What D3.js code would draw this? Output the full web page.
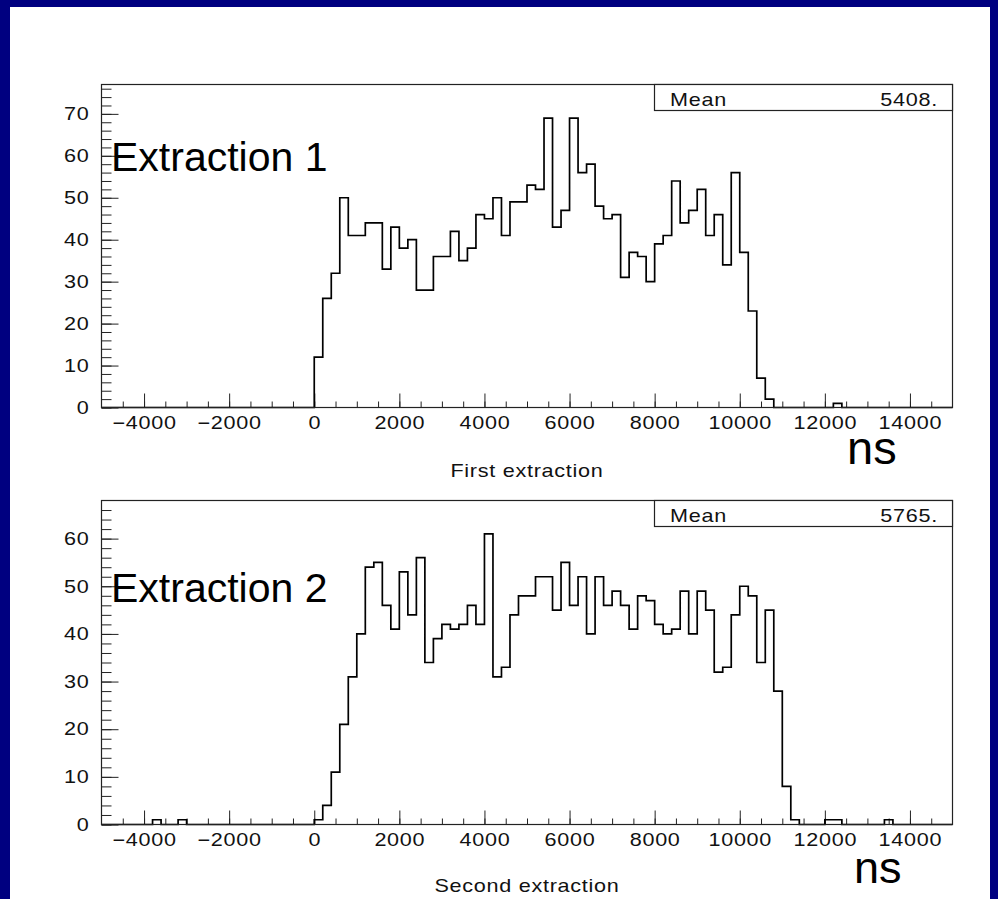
<!DOCTYPE html>
<html>
<head>
<meta charset="utf-8">
<script src="https://cdn.jsdelivr.net/npm/d3@7"></script>
<style>
  body { margin: 0; background: #ffffff; }
  svg { display: block; }
</style>
</head>
<body>
<svg id="chart" width="998" height="899"></svg>
<script>
// ---------------- DATA ----------------
const xDomain = [-5000, 15000];          // ns
const binStart = -5000;                  // ns, left edge of first bin
const binWidth = 200;                    // ns
const xTickLabels = [-4000, -2000, 0, 2000, 4000, 6000, 8000, 10000, 12000, 14000];
const xMinorTicks = d3.range(-4500, 15000, 500);

const panelTitles = ["Extraction 1", "Extraction 2"];
const axisTitles = ["First extraction", "Second extraction"];
const meanValues = ["5408.", "5765."];
const yMaxes = [77, 68];
const yTickLabels1 = [0, 10, 20, 30, 40, 50, 60, 70];
const yTickLabels2 = [0, 10, 20, 30, 40, 50, 60];

// counts per 200 ns bin, from -5000 to 15000 ns (100 bins)
const counts1 = [
  0, 0, 0, 0, 0, 0, 0, 0, 0, 0,
  0, 0, 0, 0, 0, 0, 0, 0, 0, 0,
  0, 0, 0, 0, 0,
  12, 26, 32, 50, 41, 41, 44, 44, 33, 43,
  38, 40, 28, 28, 36, 36, 42, 35, 38, 46,
  45, 50, 41, 49, 49, 53, 52, 69, 43, 47,
  69, 56, 58, 48, 45, 46, 31, 37, 36, 30,
  39, 41, 54, 44, 47, 52, 41, 46, 34, 56,
  37, 23, 7, 2, 0, 0, 0, 0, 0, 0,
  0, 1, 0, 0, 0, 0, 0, 0, 0, 0,
  0, 0, 0, 0, 0
];
const counts2 = [
  0, 0, 0, 0, 0, 0, 1, 0, 0, 1,
  0, 0, 0, 0, 0, 0, 0, 0, 0, 0,
  0, 0, 0, 0, 0,
  1, 4, 11, 21, 31, 40, 54, 55, 46, 41,
  53, 44, 56, 34, 39, 42, 41, 42, 46, 42,
  61, 31, 33, 44, 48, 48, 52, 52, 45, 55,
  46, 52, 40, 52, 46, 49, 46, 41, 48, 47,
  42, 40, 41, 49, 40, 49, 45, 32, 33, 44,
  50, 48, 34, 45, 28, 8, 1, 0, 0, 0,
  1, 1, 0, 0, 0, 0, 0, 1, 0, 0,
  0, 0, 0, 0, 0
];

// ---------------- DRAWING ----------------
const svg = d3.select("#chart");
const W = 998, H = 899;
const navy = "#000080";
const axisFont = "'Liberation Sans', Arial, sans-serif";

svg.append("rect").attr("x", 0).attr("y", 0).attr("width", W).attr("height", H).attr("fill", "#fff");

const panels = [
  { counts: counts1, yMax: yMaxes[0], yTicks: yTickLabels1, top: 84, bottom: 407.5,
    title: panelTitles[0], titleY: 171, axisTitle: axisTitles[0], axisTitleY: 477,
    mean: meanValues[0], nsY: 464, nsX: 847, nsSize: 47 },
  { counts: counts2, yMax: yMaxes[1], yTicks: yTickLabels2, top: 500, bottom: 824.5,
    title: panelTitles[1], titleY: 602, axisTitle: axisTitles[1], axisTitleY: 892,
    mean: meanValues[1], nsY: 883, nsX: 854, nsSize: 45 }
];

function styleAxisText(sel) {
  sel.attr("font-family", axisFont)
     .attr("font-size", 18)
     .attr("letter-spacing", "0.6px")
     .attr("fill", "#111")
     .attr("transform", "scale(1.2,1)");
}

panels.forEach(p => {
  const x = d3.scaleLinear().domain(xDomain).range([101.5, 952.5]);
  const y = d3.scaleLinear().domain([0, p.yMax]).range([p.bottom, p.top + 0.5]);
  const g = svg.append("g");

  // minor x ticks
  const gxm = g.append("g").attr("transform", `translate(0,${p.bottom})`)
    .call(d3.axisBottom(x).tickValues(xMinorTicks).tickSize(-6).tickFormat(""));
  gxm.select(".domain").remove();
  // major x ticks + labels
  const gx = g.append("g").attr("transform", `translate(0,${p.bottom})`)
    .call(d3.axisBottom(x).tickValues(xTickLabels).tickSize(-14).tickPadding(9).tickFormat(d3.format("d")));
  gx.select(".domain").remove();
  gx.selectAll("text").call(styleAxisText);

  // minor y ticks
  const yMinor = d3.range(0, p.yMax, 2);
  const gym = g.append("g").attr("transform", `translate(101.5,0)`)
    .call(d3.axisLeft(y).tickValues(yMinor).tickSize(-10).tickFormat(""));
  gym.select(".domain").remove();
  // major y ticks + labels
  const gy = g.append("g").attr("transform", `translate(101.5,0)`)
    .call(d3.axisLeft(y).tickValues(p.yTicks).tickSize(-17).tickPadding(10).tickFormat(d3.format("d")));
  gy.select(".domain").remove();
  gy.selectAll("text").call(styleAxisText);
  g.selectAll(".tick line").attr("stroke", "#222").attr("stroke-width", 1);

  // histogram outline
  const pts = p.counts.map((v, i) => [binStart + i * binWidth, v]);
  pts.push([binStart + p.counts.length * binWidth, p.counts[p.counts.length - 1]]);
  const line = d3.line().x(d => x(d[0])).y(d => y(d[1])).curve(d3.curveStepAfter);
  g.append("path").attr("d", line(pts)).attr("fill", "none")
    .attr("stroke", "#000").attr("stroke-width", 1.7);

  // frame
  g.append("rect")
    .attr("x", x.range()[0]).attr("y", p.top + 0.5)
    .attr("width", x.range()[1] - x.range()[0]).attr("height", p.bottom - p.top - 0.5)
    .attr("fill", "none").attr("stroke", "#222").attr("stroke-width", 1.2);

  // stats box
  g.append("rect")
    .attr("x", 654.5).attr("y", p.top + 0.5)
    .attr("width", x.range()[1] - 654.5).attr("height", 26)
    .attr("fill", "#fff").attr("stroke", "#222").attr("stroke-width", 1.2);
  g.append("text").attr("transform", `translate(670,${p.top + 21.5}) scale(1.2,1)`)
    .attr("font-family", axisFont).attr("font-size", 18).attr("letter-spacing", "0.6px")
    .attr("fill", "#111").text("Mean");
  g.append("text").attr("transform", `translate(938,${p.top + 21.5}) scale(1.2,1)`)
    .attr("text-anchor", "end")
    .attr("font-family", axisFont).attr("font-size", 18).attr("letter-spacing", "0.6px")
    .attr("fill", "#111").text(p.mean);

  // axis title
  g.append("text").attr("transform", `translate(527,${p.axisTitleY}) scale(1.2,1)`)
    .attr("text-anchor", "middle")
    .attr("font-family", axisFont).attr("font-size", 18).attr("letter-spacing", "0.6px")
    .attr("fill", "#111").text(p.axisTitle);

  // panel annotation
  g.append("text").attr("x", 111).attr("y", p.titleY)
    .attr("font-family", "'Liberation Sans', Arial, sans-serif").attr("font-size", 41)
    .attr("fill", "#000").text(p.title);

  // unit label
  g.append("text").attr("x", p.nsX).attr("y", p.nsY)
    .attr("font-family", "'Liberation Sans', Arial, sans-serif").attr("font-size", p.nsSize)
    .attr("fill", "#000").text("ns");
});

// navy border
svg.append("rect").attr("x", 0).attr("y", 0).attr("width", W).attr("height", 7).attr("fill", navy);
svg.append("rect").attr("x", 0).attr("y", 0).attr("width", 10).attr("height", H).attr("fill", navy);
svg.append("rect").attr("x", 990).attr("y", 0).attr("width", 8).attr("height", H).attr("fill", navy);
</script>
</body>
</html>
